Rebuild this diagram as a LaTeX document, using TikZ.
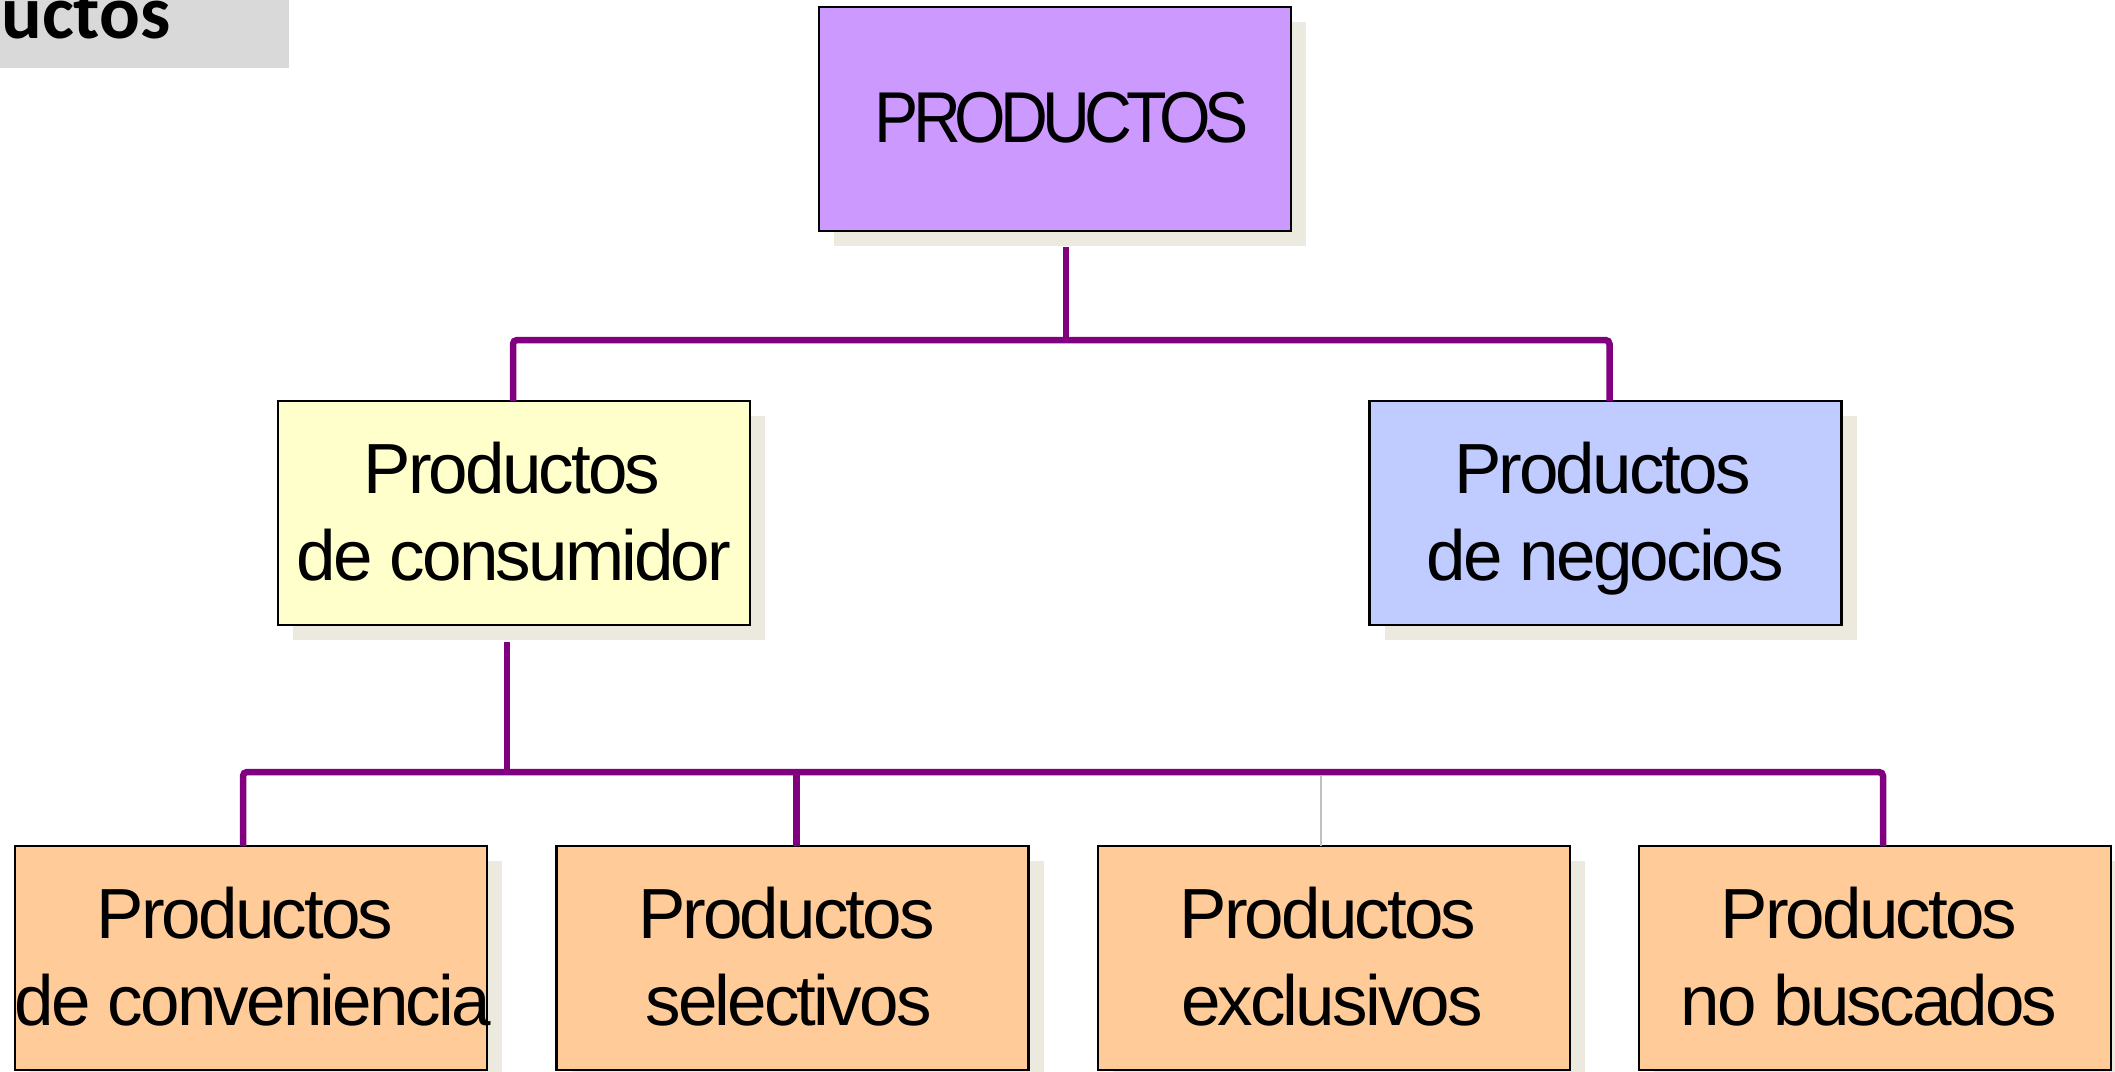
\documentclass[tikz,border=0pt]{standalone}
\usepackage{fontspec}
\setmainfont{Liberation Sans}
\newfontfamily\titlefont{Carlito}
\usetikzlibrary{calc,shadows}
\definecolor{prodc}{HTML}{CC99FF}
\definecolor{consc}{HTML}{FFFFCC}
\definecolor{negc}{HTML}{C0CBFF}
\definecolor{botc}{HTML}{FFCC99}
\definecolor{shadowc}{HTML}{ECE9DF}
\definecolor{linec}{HTML}{800080}
\definecolor{thinc}{HTML}{C0C0C0}
\definecolor{titlec}{HTML}{D9D9D9}
\begin{document}
\begin{tikzpicture}[x=0.5pt,y=-0.5pt,
  boxst/.style={draw=black, line width=1.25pt, minimum width=236pt, minimum height=112pt,
    inner sep=0pt, outer sep=0pt,
    drop shadow={shadow xshift=7.5pt, shadow yshift=-7.5pt, fill=shadowc, opacity=1}},
  txt/.style={anchor=base, inner sep=0pt, outer sep=0pt,
    font=\fontsize{35.5}{40}\selectfont\addfontfeature{LetterSpace=-4}},
  captxt/.style={anchor=base, inner sep=0pt, outer sep=0pt,
    font=\fontsize{36}{40}\selectfont\addfontfeature{LetterSpace=-9}},
  conn/.style={draw=linec, line width=3.25pt, rounded corners=2pt},
  thinconn/.style={draw=thinc, line width=1pt}
]
\useasboundingbox (0,0) rectangle (2115,1071);
\fill[white] (0,0) rectangle (2115,1071);

% title tab
\fill[titlec] (0,0) rectangle (289,68);
\node[anchor=base west, inner sep=0pt, font=\titlefont\bfseries\fontsize{38}{42}\selectfont] (title) at (1,38) {uctos};

% boxes
\node[boxst, fill=prodc] (prod) at (1055,119) {};
\node[boxst, fill=consc] (cons) at (514,513) {};
\node[boxst, fill=negc] (neg) at (1605.5,513) {};
\node[boxst, fill=botc] (b1) at (251,958) {};
\node[boxst, fill=botc] (b2) at (792.5,958) {};
\node[boxst, fill=botc] (b3) at (1334,958) {};
\node[boxst, fill=botc] (b4) at (1875,958) {};

% texts
\node[captxt] (prodt) at ($(prod.north)+(7,135)$) {\scalebox{0.92}[1]{PRODUCTOS}};
\node[txt] (cons1) at ($(cons.north)+(-2,92)$) {Productos};
\node[txt] (cons2) at ($(cons.north)+(0,179)$) {de consumidor};
\node[txt] (neg1) at ($(neg.north)+(-3,92)$) {Productos};
\node[txt] (neg2) at ($(neg.north)+(0,179)$) {de negocios};
\node[txt] (b1a) at ($(b1.north)+(-6,92)$) {Productos};
\node[txt] (b1b) at ($(b1.north)+(2,179)$) {de conveniencia};
\node[txt] (b2a) at ($(b2.north)+(-6,92)$) {Productos};
\node[txt] (b2b) at ($(b2.north)+(-4,179)$) {selectivos};
\node[txt] (b3a) at ($(b3.north)+(-6,92)$) {Productos};
\node[txt] (b3b) at ($(b3.north)+(-2,179)$) {exclusivos};
\node[txt] (b4a) at ($(b4.north)+(-6,92)$) {Productos};
\node[txt] (b4b) at ($(b4.north)+(-6,179)$) {no buscados};

% connectors
\coordinate (j1) at (1066,340);
\coordinate (j2) at (507,772);
\draw[conn] ($(prod.south)+(11,16)$) -- (j1);
\draw[conn] ($(cons.north)+(-1,0)$) |- (j1) -| ($(neg.north)+(4,0)$);
\draw[conn] ($(cons.south)+(-7,17)$) -- (j2);
\draw[thinconn] ($(b3.north)+(-13,0)$) -- ($(b3.north |- j2)+(-13,4)$);
\draw[conn] ($(b1.north)+(-8,0)$) |- (j2) -| ($(b4.north)+(8,0)$);
\draw[conn] ($(b2.north)+(4,0)$) -- ($(b2.north |- j2)+(4,0)$);
\end{tikzpicture}
\end{document}
